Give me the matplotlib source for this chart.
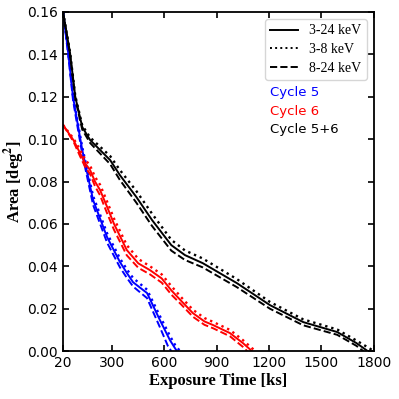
import matplotlib
matplotlib.use('Agg')
import matplotlib.pyplot as plt

# ---- Data ----
# Cycle 5+6
c56_x_solid = [20, 60, 90, 130, 175, 290, 345, 440, 530, 640, 718, 820, 1015, 1205, 1395, 1590, 1700, 1765]
c56_y_solid = [0.160, 0.1407, 0.120, 0.1057, 0.0996, 0.0901, 0.0831, 0.0727, 0.0618, 0.0500, 0.0453, 0.0415, 0.0321, 0.0217, 0.0137, 0.0090, 0.0038, 0.0]
c56_x_dot = [20, 60, 90, 130, 175, 290, 345, 440, 530, 640, 718, 820, 1015, 1205, 1395, 1590, 1700, 1765, 1800]
c56_y_dot = [0.160, 0.1410, 0.1205, 0.1065, 0.1008, 0.0920, 0.0855, 0.0755, 0.0648, 0.0525, 0.0475, 0.0437, 0.0340, 0.0232, 0.0150, 0.0102, 0.0050, 0.0018, 0.0]
c56_x_dash = [20, 60, 90, 130, 175, 290, 345, 440, 530, 640, 718, 820, 1015, 1205, 1395, 1590, 1700, 1740]
c56_y_dash = [0.160, 0.1400, 0.1190, 0.1045, 0.0982, 0.0882, 0.0808, 0.0700, 0.0590, 0.0474, 0.0430, 0.0395, 0.0302, 0.0200, 0.0122, 0.0077, 0.0025, 0.0]

# Cycle 5
c5_x_solid = [20, 50, 77, 100, 130, 192, 272, 346, 386, 421, 501, 575, 632, 661, 672]
c5_y_solid = [0.160, 0.1407, 0.120, 0.109, 0.0949, 0.0713, 0.0538, 0.0420, 0.0368, 0.0325, 0.0274, 0.0146, 0.0052, 0.0014, 0.0]
c5_x_dot = [20, 50, 77, 100, 130, 192, 272, 346, 386, 421, 501, 575, 632, 661, 690]
c5_y_dot = [0.160, 0.1410, 0.1207, 0.1100, 0.0962, 0.0732, 0.0556, 0.0437, 0.0385, 0.0345, 0.0290, 0.0165, 0.0072, 0.0030, 0.0]
c5_x_dash = [20, 50, 77, 100, 130, 192, 272, 346, 386, 421, 501, 575, 620, 640]
c5_y_dash = [0.160, 0.1395, 0.1185, 0.1072, 0.0930, 0.0690, 0.0512, 0.0395, 0.0345, 0.0305, 0.0250, 0.0112, 0.0025, 0.0]

# Cycle 6
c6_x_solid = [20, 80, 117, 146, 175, 203, 232, 270, 312, 385, 451, 518, 585, 642, 699, 764, 830, 879, 976, 1050, 1102]
c6_y_solid = [0.1067, 0.0995, 0.0935, 0.0887, 0.0854, 0.0800, 0.0760, 0.0685, 0.0600, 0.0477, 0.0414, 0.0382, 0.0343, 0.0285, 0.0235, 0.0179, 0.0140, 0.0123, 0.0085, 0.0038, 0.0]
c6_x_dot = [20, 80, 117, 146, 175, 203, 232, 270, 312, 385, 451, 518, 585, 642, 699, 764, 830, 879, 976, 1050, 1100, 1125]
c6_y_dot = [0.1067, 0.1003, 0.0950, 0.0905, 0.0875, 0.0822, 0.0785, 0.0710, 0.0625, 0.0500, 0.0435, 0.0400, 0.0362, 0.0305, 0.0252, 0.0195, 0.0156, 0.0138, 0.0100, 0.0052, 0.0015, 0.0]
c6_x_dash = [20, 80, 117, 146, 175, 203, 232, 270, 312, 385, 451, 518, 585, 642, 699, 764, 830, 879, 976, 1050, 1075]
c6_y_dash = [0.1067, 0.0988, 0.0920, 0.0870, 0.0835, 0.0778, 0.0735, 0.0655, 0.0572, 0.0452, 0.0393, 0.0362, 0.0323, 0.0265, 0.0218, 0.0162, 0.0124, 0.0108, 0.0070, 0.0020, 0.0]

x_ticks = [20, 300, 600, 900, 1200, 1500, 1800]
y_ticks = [0.00, 0.02, 0.04, 0.06, 0.08, 0.10, 0.12, 0.14, 0.16]
band_labels = ['3-24 keV', '3-8 keV', '8-24 keV']
cycle_labels = ['Cycle 5', 'Cycle 6', 'Cycle 5+6']
cycle_colors = ['blue', 'red', 'black']

plt.rcParams['mathtext.fontset'] = 'stix'

fig = plt.figure(figsize=(3.99, 3.99), dpi=100)
ax = fig.add_axes([0.158, 0.120, 0.779, 0.850])

lw = 1.4
series = [
    (c5_x_solid, c5_y_solid, c5_x_dot, c5_y_dot, c5_x_dash, c5_y_dash, 'blue'),
    (c6_x_solid, c6_y_solid, c6_x_dot, c6_y_dot, c6_x_dash, c6_y_dash, 'red'),
    (c56_x_solid, c56_y_solid, c56_x_dot, c56_y_dot, c56_x_dash, c56_y_dash, 'black'),
]
for xs, ys, xd, yd, xa, ya, c in series:
    ax.plot(xs, ys, '-', color=c, lw=lw)
    ax.plot(xd, yd, ':', color=c, lw=lw + 0.3)
    ax.plot(xa, ya, '--', color=c, lw=lw)

# legend for energy bands (black proxies)
handles = [ax.plot([], [], ls, color='black', lw=lw)[0] for ls in ['-', ':', '--']]
ax.legend(handles, band_labels, loc='upper right', prop={'family': 'Liberation Serif', 'size': 10},
          handlelength=2.0, labelspacing=0.4, borderaxespad=0.5)

for i, (lab, c) in enumerate(zip(cycle_labels, cycle_colors)):
    ax.text(0.666, 0.764 - i * 0.056, lab, color=c, fontsize=9.5, transform=ax.transAxes,
            ha='left', va='center')

ax.set_xlim(20, 1800)
ax.set_ylim(0, 0.16)
ax.set_xticks(x_ticks)
ax.set_yticks(y_ticks)
ax.set_yticklabels([f'{v:.2f}' for v in y_ticks])
ax.tick_params(direction='in', top=True, right=True, labelsize=10, length=4, width=1.2)
for s in ax.spines.values():
    s.set_linewidth(1.3)

ax.set_xlabel('Exposure Time [ks]', family='Liberation Serif', weight='bold', fontsize=12, labelpad=2)
ax.set_ylabel(r'Area [deg$^{\mathbf{2}}$]', family='Liberation Serif', weight='bold', fontsize=12)
ax.yaxis.set_label_coords(-0.115, 0.5)

fig.savefig('out.png', dpi=100)
